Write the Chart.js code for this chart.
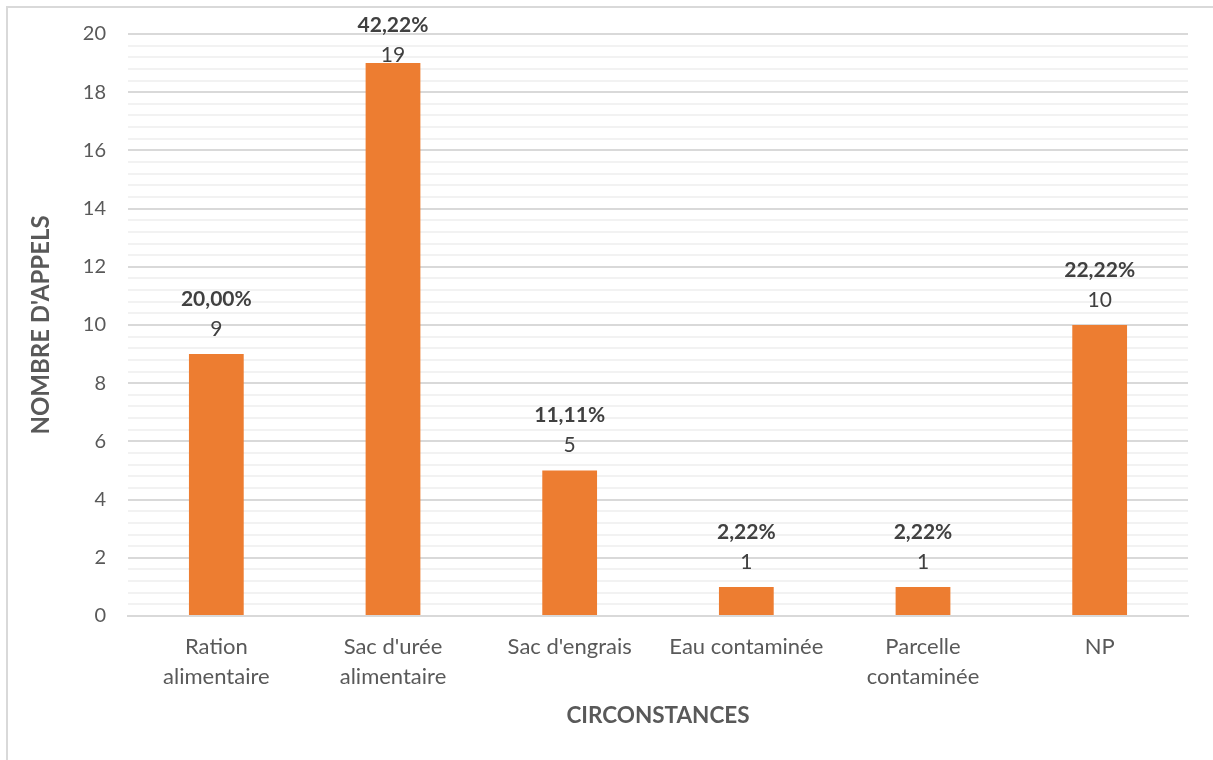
<!DOCTYPE html>
<html><head><meta charset="utf-8">
<script src="https://cdn.jsdelivr.net/npm/chart.js@4"></script>
<style>html,body{margin:0;padding:0;background:#fff;}#wrap{width:1213px;height:760px;position:relative;}</style>
</head><body><div id="wrap"><canvas id="c" width="1213" height="760"></canvas></div>
<script>
const categories = [["Ration","alimentaire"],["Sac d'urée","alimentaire"],"Sac d'engrais","Eau contaminée",["Parcelle","contaminée"],"NP"];
const values = [9, 19, 5, 1, 1, 10];
const percentLabels = ["20,00%","42,22%","11,11%","2,22%","2,22%","22,22%"];
const yMax = 20;
const minorStep = 0.4;
const majorStep = 2;

const FONT = "Lato, 'Open Sans', sans-serif";

const framePlugin = {
  id: 'frame',
  beforeDraw(chart) {
    const ctx = chart.ctx;
    ctx.save();
    ctx.fillStyle = '#fff';
    ctx.fillRect(0, 0, chart.width, chart.height);
    ctx.strokeStyle = '#d9d9d9';
    ctx.lineWidth = 2;
    ctx.strokeRect(7, 7, chart.width + 20, chart.height + 20);
    ctx.restore();
  }
};

const labelPlugin = {
  id: 'barLabels',
  afterDatasetsDraw(chart) {
    const ctx = chart.ctx;
    const meta = chart.getDatasetMeta(0);
    const minY = chart.chartArea.top - 9;
    ctx.save();
    ctx.textAlign = 'center';
    ctx.textBaseline = 'middle';
    meta.data.forEach((bar, i) => {
      const pctY = Math.max(bar.y - 55, minY);
      ctx.fillStyle = '#404040';
      ctx.font = "bold 21px " + FONT;
      ctx.fillText(percentLabels[i], bar.x, pctY);
      ctx.font = "21px " + FONT;
      ctx.fillText(String(values[i]), bar.x, pctY + 30);
    });
    ctx.restore();
  }
};

new Chart(document.getElementById('c'), {
  type: 'bar',
  data: {
    labels: categories,
    datasets: [{
      data: values,
      backgroundColor: '#ed7d31',
      borderWidth: 0,
      barPercentage: 0.62,
      categoryPercentage: 0.5
    }]
  },
  options: {
    responsive: false,
    animation: false,
    layout: { padding: { left: 27, right: 25, top: 34, bottom: 31 } },
    plugins: { legend: { display: false }, tooltip: { enabled: false } },
    scales: {
      x: {
        grid: { display: false, drawTicks: false },
        border: { display: true, color: '#d9d9d9', width: 2 },
        ticks: { color: '#595959', font: { family: FONT, size: 22, lineHeight: 1.364 }, padding: 16, maxRotation: 0, autoSkip: false },
        title: { display: true, text: 'CIRCONSTANCES', color: '#595959', font: { family: FONT, size: 22.5, weight: 'bold' }, padding: { top: -6, bottom: 0 } }
      },
      y: {
        min: 0, max: yMax,
        afterBuildTicks(axis) {
          const t = [];
          const n = Math.round(yMax / minorStep);
          for (let i = 0; i <= n; i++) t.push({ value: Math.round(i * minorStep * 10) / 10 });
          axis.ticks = t;
        },
        grid: {
          drawTicks: false,
          color: (c) => (Math.abs(c.tick.value % majorStep) < 1e-6 ? '#d9d9d9' : '#f2f2f2'),
          lineWidth: 2
        },
        border: { display: false },
        ticks: {
          color: '#595959', font: { family: FONT, size: 20 }, padding: 22, autoSkip: false,
          callback: (v) => (Math.abs(v % majorStep) < 1e-6 ? String(Math.round(v)) : '')
        },
        title: { display: true, text: "NOMBRE D'APPELS", color: '#595959', font: { family: FONT, size: 24, weight: 'bold' }, padding: { top: 0, bottom: 5 } }
      }
    }
  },
  plugins: [framePlugin, labelPlugin]
});
</script>
</body></html>
